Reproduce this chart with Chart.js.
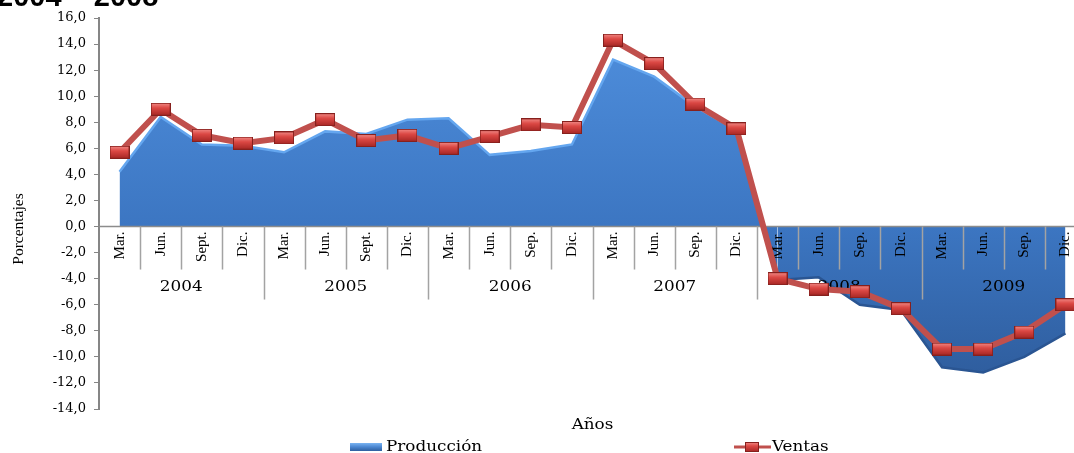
<!DOCTYPE html>
<html><head><meta charset="utf-8">
<script src="https://cdn.jsdelivr.net/npm/chart.js@4.4.1/dist/chart.umd.min.js"></script>
<style>
html,body{margin:0;padding:0;overflow:hidden;background:#fff;width:1074px;height:453px}
#outer{position:relative;width:1074px;height:453px;overflow:hidden}
#wrap{position:absolute;left:0;top:0;width:1087px;height:453px}
</style>
</head><body><div id="outer"><div id="wrap"><canvas id="c" width="1087" height="453" style="width:1087px;height:453px"></canvas></div></div>
<script>
const titleText = '2004 – 2008';
const categories = ['Mar.','Jun.','Sept.','Dic.','Mar.','Jun.','Sept.','Dic.','Mar.','Jun.','Sep.','Dic.','Mar.','Jun.','Sep.','Dic.','Mar.','Jun.','Sep.','Dic.','Mar.','Jun.','Sep.','Dic.'];
const years = ['2004','2005','2006','2007','2008','2009'];
const produccion = [4.2,8.4,6.3,6.2,5.7,7.3,7.1,8.2,8.3,5.5,5.8,6.3,12.8,11.5,9.2,7.4,-4.1,-3.9,-6.0,-6.4,-10.8,-11.2,-10.0,-8.2];
const ventas = [5.7,9.0,7.0,6.4,6.8,8.2,6.6,7.0,6.0,6.9,7.8,7.6,14.3,12.5,9.4,7.5,-4.0,-4.8,-5.0,-6.3,-9.4,-9.4,-8.1,-6.0];
const yMin = -14, yMax = 16, yStep = 2;
const yTitle = 'Porcentajes';
const xTitle = 'Años';

function makeMarker(w,h){
  const c=document.createElement('canvas'); c.width=w; c.height=h;
  const g=c.getContext('2d');
  const gr=g.createLinearGradient(0,0,0,h);
  gr.addColorStop(0,'#f28e8a'); gr.addColorStop(0.4,'#dc4844'); gr.addColorStop(1,'#a42523');
  g.fillStyle=gr; g.fillRect(0,0,w,h);
  g.strokeStyle='#86201d'; g.lineWidth=1; g.strokeRect(0.5,0.5,w-1,h-1);
  return c;
}
const marker = makeMarker(20,13);
const smallMarker = makeMarker(14,10);

function areaGradient(ctx){
  const chart = ctx.chart; const a = chart.chartArea;
  if(!a) return '#3f7cc8';
  const g = chart.ctx.createLinearGradient(0,a.top,0,a.bottom);
  g.addColorStop(0,'#5090de'); g.addColorStop(0.53,'#3c76c2'); g.addColorStop(1,'#2c5896');
  return g;
}

const SERIF = '"DejaVu Serif", serif';
function stretchedText(ctx, text, x, y, size, align, sx){
  ctx.save();
  ctx.font = size+'px '+SERIF;
  ctx.textBaseline='middle';
  ctx.textAlign='left';
  const w = ctx.measureText(text).width*sx;
  let x0 = x;
  if(align==='center') x0 = x - w/2;
  ctx.translate(x0,y); ctx.scale(sx,1);
  ctx.fillText(text,0,0);
  ctx.restore();
  return w;
}

const deco = {
  id:'deco',
  afterDatasetDraw(chart,args){
    if(args.index!==0) return;
    const {ctx, chartArea:a, scales:{x,y}} = chart;
    const y0 = y.getPixelForValue(0);
    const w = x.getPixelForValue(1)-x.getPixelForValue(0);
    ctx.save();
    ctx.strokeStyle='#8c8c8c'; ctx.lineWidth=1.5;
    ctx.beginPath(); ctx.moveTo(a.left,y0); ctx.lineTo(a.right,y0); ctx.stroke();
    ctx.strokeStyle='#a3a3a3'; ctx.lineWidth=1.5;
    for(let i=1;i<=categories.length;i++){
      const bx = Math.round(x.getPixelForValue(i)-w/2)+0.5;
      const len = (i%4===0)?73:43;
      ctx.beginPath(); ctx.moveTo(bx,y0); ctx.lineTo(bx,y0+len); ctx.stroke();
    }
    ctx.fillStyle='#000';
    ctx.font='15px "Liberation Serif", serif';
    for(let i=0;i<categories.length;i++){
      ctx.save();
      ctx.translate(x.getPixelForValue(i), y0+5);
      ctx.rotate(-Math.PI/2);
      ctx.textAlign='right'; ctx.textBaseline='middle';
      ctx.fillText(categories[i],0,0);
      ctx.restore();
    }
    years.forEach((yr,k)=>{
      const cx=(x.getPixelForValue(4*k)+x.getPixelForValue(4*k+3))/2;
      stretchedText(ctx, yr, cx, y0+61, 14, 'center', 1.2);
    });
    ctx.restore();
  },
  afterDraw(chart){
    const {ctx, chartArea:a} = chart;
    ctx.save();
    ctx.fillStyle='#000';
    ctx.font='bold 29px "Liberation Sans", Arial, sans-serif';
    ctx.textAlign='left'; ctx.textBaseline='alphabetic';
    ctx.fillText(titleText,-3,6);
    ctx.save();
    ctx.translate(19,229); ctx.rotate(-Math.PI/2);
    ctx.font='15.5px "Liberation Serif", serif'; ctx.textAlign='center'; ctx.textBaseline='middle';
    ctx.fillText(yTitle,0,0);
    ctx.restore();
    stretchedText(ctx, xTitle, (a.left+a.right)/2, 425, 14, 'center', 1.2);
    const ds = chart.data.datasets;
    const ly = 447;
    const bg = ctx.createLinearGradient(0,ly-4,0,ly+4);
    bg.addColorStop(0,'#7ab4f2'); bg.addColorStop(0.5,'#4a86d0'); bg.addColorStop(1,'#2f5f9f');
    ctx.fillStyle=bg; ctx.fillRect(350,ly-4,32,8);
    ctx.fillStyle='#000';
    stretchedText(ctx, ds[0].label, 386, ly, 14, 'left', 1.2);
    ctx.strokeStyle='#c0504d'; ctx.lineWidth=3;
    ctx.beginPath(); ctx.moveTo(734,ly); ctx.lineTo(771,ly); ctx.stroke();
    ctx.drawImage(smallMarker, 752-7, ly-5);
    ctx.fillStyle='#000';
    stretchedText(ctx, ds[1].label, 772, ly, 14, 'left', 1.2);
    ctx.restore();
  }
};

new Chart(document.getElementById('c'), {
  type:'line',
  data:{
    labels: categories,
    datasets:[
      {label:'Producción', data: produccion, order:2, fill:'origin',
       backgroundColor: areaGradient, borderColor:'#64a6ef', borderWidth:2.5,
       pointRadius:0, tension:0,
       segment:{borderColor: c => (c.p0.parsed.y<0 && c.p1.parsed.y<0) ? '#2a5592' : undefined}},
      {label:'Ventas', data: ventas, order:1, fill:false,
       borderColor:'#c0504d', borderWidth:6, pointStyle: marker, pointRadius:10, tension:0}
    ]
  },
  options:{
    responsive:false, animation:false, events:[],
    layout:{autoPadding:false, padding:{top:18,bottom:44,left:0,right:1}},
    plugins:{legend:{display:false}, tooltip:{enabled:false}, title:{display:false}},
    scales:{
      x:{type:'category', offset:true, display:false},
      y:{min:yMin, max:yMax,
         afterFit(s){ s.width = 99; },
         ticks:{stepSize:yStep, padding:8, color:'#000', font:{family:'"DejaVu Serif", serif', size:13},
                callback:v=>v.toFixed(1).replace('.',',')},
         grid:{drawOnChartArea:false, drawTicks:true, tickLength:5, color:'#868686', lineWidth:1},
         border:{color:'#868686', width:2}}
    }
  },
  plugins:[deco]
});
</script></body></html>
